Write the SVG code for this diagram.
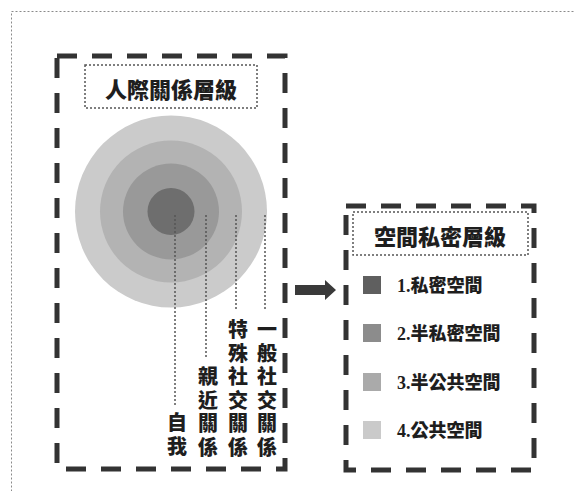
<svg xmlns="http://www.w3.org/2000/svg" width="574" height="491" viewBox="0 0 574 491">
<style>
.bg{fill:#ffffff}
.outer{fill:none;stroke:#8a8a8a;stroke-width:1;stroke-dasharray:2 2}
.dash{fill:none;stroke:#333333;stroke-width:5;stroke-dasharray:20 15}
.dot{fill:none;stroke:#555555;stroke-width:1.5;stroke-dasharray:2 2}
.vline{fill:none;stroke:#555555;stroke-width:1.5;stroke-dasharray:2 2}
.t{font-family:"Liberation Serif","Noto Sans CJK TC",serif;font-weight:900;fill:#1e1e1e}
.title{font-size:22px;text-anchor:middle}
.vt{font-size:20px;text-anchor:middle}
.lg{font-size:18px}
</style>
<rect class="bg" x="0" y="0" width="574" height="491"/>
<rect class="outer" x="11.5" y="11.5" width="700" height="700"/>

<g id="left-panel">
  <rect class="dash" x="57" y="56" width="228" height="413"/>
  <g id="left-title">
    <rect class="dot" x="85" y="65" width="172" height="43"/>
    <text class="t title" x="171" y="98">人際關係層級</text>
  </g>
  <g id="circles">
    <circle cx="171" cy="211.5" r="96" fill="#cbcbcb"/>
    <circle cx="171" cy="211.5" r="71" fill="#b3b3b3"/>
    <circle cx="171" cy="211.5" r="48" fill="#999999"/>
    <circle cx="171" cy="211.5" r="23.5" fill="#6e6e6e"/>
  </g>
</g>

<g id="connectors">
  <line class="vline" x1="175" y1="215" x2="175" y2="407"/>
  <line class="vline" x1="206" y1="215" x2="206" y2="357"/>
  <line class="vline" x1="236" y1="215" x2="236" y2="310"/>
  <line class="vline" x1="265" y1="215" x2="265" y2="310"/>
  <polygon points="295,285 325,285 325,280 336,290 325,300 325,295 295,295" fill="#3a3a3a"/>
</g>

<g id="label-self">
  <text class="t vt" x="177" y="430"><tspan x="177">自</tspan><tspan x="177" dy="24">我</tspan></text>
</g>
<g id="label-close">
  <text class="t vt" x="208" y="384"><tspan x="208">親</tspan><tspan x="208" dy="23.5">近</tspan><tspan x="208" dy="23.5">關</tspan><tspan x="208" dy="24">係</tspan></text>
</g>
<g id="label-special">
  <text class="t vt" x="238" y="337"><tspan x="238">特</tspan><tspan x="238" dy="23.5">殊</tspan><tspan x="238" dy="23.5">社</tspan><tspan x="238" dy="23.5">交</tspan><tspan x="238" dy="23.5">關</tspan><tspan x="238" dy="24">係</tspan></text>
</g>
<g id="label-general">
  <text class="t vt" x="267" y="337"><tspan x="267">一</tspan><tspan x="267" dy="23.5">般</tspan><tspan x="267" dy="23.5">社</tspan><tspan x="267" dy="23.5">交</tspan><tspan x="267" dy="23.5">關</tspan><tspan x="267" dy="24">係</tspan></text>
</g>

<g id="right-panel">
  <rect class="dash" x="346" y="206" width="188" height="264"/>
  <g id="right-title">
    <rect class="dot" x="353" y="212" width="175" height="43"/>
    <text class="t title" x="440" y="245">空間私密層級</text>
  </g>
  <g id="legend-1">
    <rect x="363" y="276" width="18" height="18" fill="#5f5f5f"/>
    <text class="t lg" x="397" y="292">1.私密空間</text>
  </g>
  <g id="legend-2">
    <rect x="363" y="324" width="18" height="18" fill="#8c8c8c"/>
    <text class="t lg" x="397" y="340">2.半私密空間</text>
  </g>
  <g id="legend-3">
    <rect x="363" y="373" width="18" height="18" fill="#aaaaaa"/>
    <text class="t lg" x="397" y="389">3.半公共空間</text>
  </g>
  <g id="legend-4">
    <rect x="363" y="421" width="18" height="18" fill="#cacaca"/>
    <text class="t lg" x="397" y="437">4.公共空間</text>
  </g>
</g>
</svg>
